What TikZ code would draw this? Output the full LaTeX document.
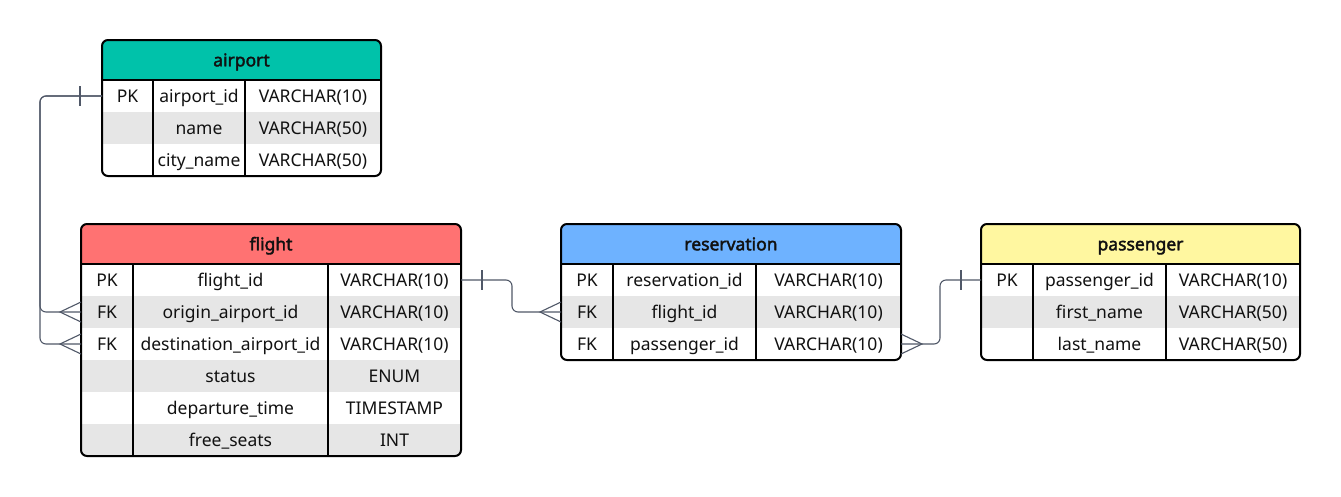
\documentclass[tikz,border=0pt]{standalone}
\usepackage{fontspec}
\setmainfont{Noto Sans}[AutoFakeBold=2.2]
\usetikzlibrary{calc}
\definecolor{hdteal}{RGB}{0,194,170}
\definecolor{hdred}{RGB}{255,114,114}
\definecolor{hdblue}{RGB}{110,178,255}
\definecolor{hdyellow}{RGB}{255,247,160}
\definecolor{rowgray}{RGB}{230,230,230}
\definecolor{linegray}{RGB}{80,88,104}
\definecolor{ink}{RGB}{17,17,17}
\tikzset{
  cell/.style={inner sep=0pt, text=ink, font=\fontsize{17.5}{20}\selectfont, anchor=base},
  title/.style={inner sep=0pt, text=ink, font=\fontsize{17.5}{20}\selectfont\bfseries, anchor=base},
  frame/.style={draw=black, line width=2pt, rounded corners=6pt},
  divider/.style={draw=black, line width=2pt},
  conn/.style={draw=linegray, line width=1.1pt, rounded corners=6pt},
  endmark/.style={draw=linegray, line width=1.1pt},
}
% #1 name, #2 w1, #3 w2, #4 w3, #5 nrows, #6 color, #7 title, #8 rows
\newcommand{\ertable}[8]{%
  \pgfmathsetmacro\wA{#2}%
  \pgfmathsetmacro\wB{#2+#3}%
  \pgfmathsetmacro\wC{#2+#3+#4}%
  \pgfmathsetmacro\hT{40+32*#5}%
  \begin{scope}
    \clip[rounded corners=6pt] (0,0) rectangle (\wC,\hT);
    \fill[#6] (0,0) rectangle (\wC,40);
    \foreach \i in {1,...,#5}{%
      \ifodd\i\else \fill[rowgray] (0,{40+32*(\i-1)}) rectangle (\wC,{40+32*\i});\fi
    }
  \end{scope}
  \node[title] (#1-h) at ({\wC/2},26.3) {#7};
  \foreach \k/\f/\t [count=\i] in {#8}{%
    \node[cell] (#1-\i-1) at ({\wA/2},{62.3+32*(\i-1)}) {\k};
    \node[cell] (#1-\i-2) at ({(\wA+\wB)/2},{62.3+32*(\i-1)}) {\f};
    \node[cell] (#1-\i-3) at ({(\wB+\wC)/2},{62.3+32*(\i-1)}) {\t};
    \coordinate (#1-\i-w) at (0,{56+32*(\i-1)});
    \coordinate (#1-\i-e) at (\wC,{56+32*(\i-1)});
  }
  \draw[divider] (0,40) -- (\wC,40);
  \draw[divider] (\wA,40) -- (\wA,\hT);
  \draw[divider] (\wB,40) -- (\wB,\hT);
  \draw[frame] (0,0) rectangle (\wC,\hT);
}
\begin{document}
\begin{tikzpicture}[x=1pt,y=-1pt]
\useasboundingbox[fill=white] (0,0) rectangle (1341,496);

\begin{scope}[shift={(102,40)}]
\ertable{airport}{51}{92}{136}{3}{hdteal}{airport}{PK/airport\_id/VARCHAR(10), {}/name/VARCHAR(50), {}/city\_name/VARCHAR(50)}
\end{scope}

\begin{scope}[shift={(81,224)}]
\ertable{flight}{52}{195}{133}{6}{hdred}{flight}{PK/flight\_id/VARCHAR(10), FK/origin\_airport\_id/VARCHAR(10), FK/destination\_airport\_id/VARCHAR(10), {}/status/ENUM, {}/departure\_time/TIMESTAMP, {}/free\_seats/INT}
\end{scope}

\begin{scope}[shift={(561,224)}]
\ertable{reservation}{52}{143}{145}{3}{hdblue}{reservation}{PK/reservation\_id/VARCHAR(10), FK/flight\_id/VARCHAR(10), FK/passenger\_id/VARCHAR(10)}
\end{scope}

\begin{scope}[shift={(981,224)}]
\ertable{passenger}{52}{133}{134}{3}{hdyellow}{passenger}{PK/passenger\_id/VARCHAR(10), {}/first\_name/VARCHAR(50), {}/last\_name/VARCHAR(50)}
\end{scope}

% airport -> flight (origin, destination)
\draw[conn] (airport-1-w) -- ++(-62,0) |- (flight-2-w);
\draw[conn] (airport-1-w) -- ++(-62,0) |- (flight-3-w);
\draw[endmark] ($(airport-1-w)+(-22,-10)$) -- ($(airport-1-w)+(-22,10)$);
\draw[endmark] ($(flight-2-w)+(0,-10)$) -- ($(flight-2-w)+(-21,0)$) -- ($(flight-2-w)+(0,10)$);
\draw[endmark] ($(flight-3-w)+(0,-10)$) -- ($(flight-3-w)+(-21,0)$) -- ($(flight-3-w)+(0,10)$);

% flight -> reservation
\draw[conn] (flight-1-e) -- ++(51,0) |- (reservation-2-w);
\draw[endmark] ($(flight-1-e)+(21,-10)$) -- ($(flight-1-e)+(21,10)$);
\draw[endmark] ($(reservation-2-w)+(0,-10)$) -- ($(reservation-2-w)+(-21,0)$) -- ($(reservation-2-w)+(0,10)$);

% passenger -> reservation
\draw[conn] (reservation-3-e) -- ++(39,0) |- (passenger-1-w);
\draw[endmark] ($(passenger-1-w)+(-20,-10)$) -- ($(passenger-1-w)+(-20,10)$);
\draw[endmark] ($(reservation-3-e)+(0,-10)$) -- ($(reservation-3-e)+(21,0)$) -- ($(reservation-3-e)+(0,10)$);
\end{tikzpicture}
\end{document}
